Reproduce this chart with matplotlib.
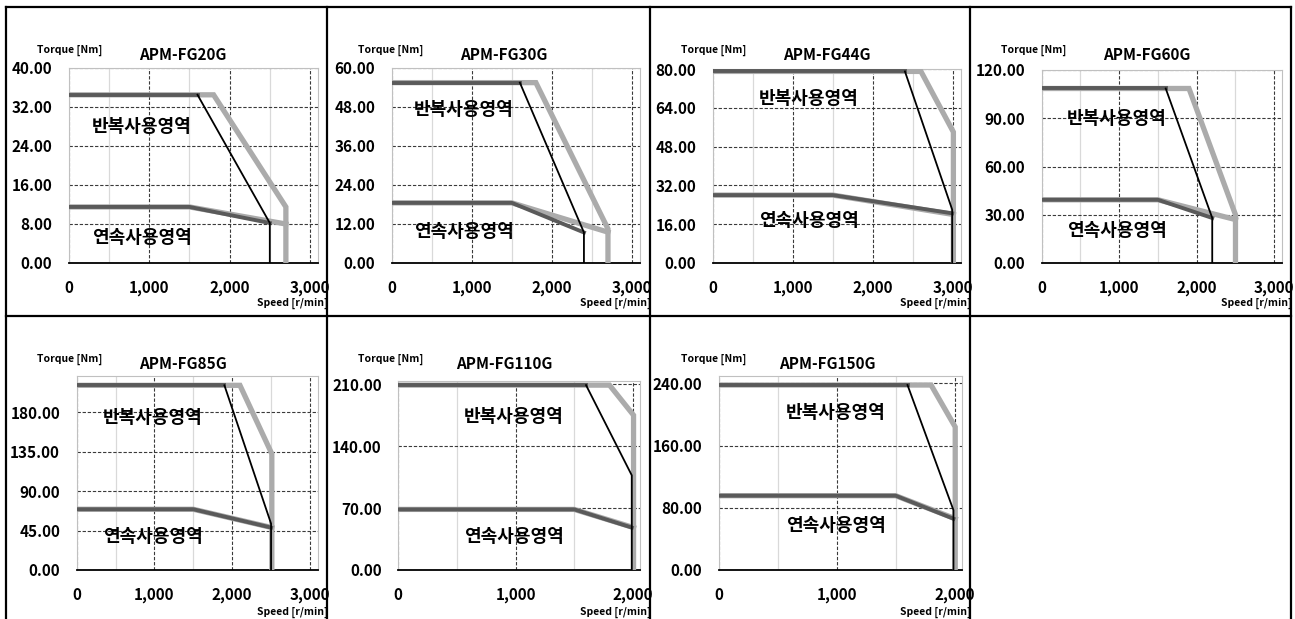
import matplotlib
matplotlib.use("Agg")
import matplotlib.pyplot as plt
from matplotlib.lines import Line2D
from matplotlib.ticker import MultipleLocator, FuncFormatter

plt.rcParams['font.family'] = ['Noto Sans CJK KR', 'DejaVu Sans']

# ---------------- data ----------------
models = ["APM-FG20G", "APM-FG30G", "APM-FG44G", "APM-FG60G",
          "APM-FG85G", "APM-FG110G", "APM-FG150G"]
y_max = [40, 60, 80, 120, 222, 214, 250]
y_step = [8, 12, 16, 30, 45, 70, 80]
x_max = [3100, 3100, 3100, 3100, 3100, 2060, 2060]
x_ticks = [[0, 1000, 2000, 3000]] * 5 + [[0, 1000, 2000]] * 2

# repeated (peak) region, standard curve (dark gray flat + black slope)
peak_torque = [34.5, 55.5, 79.0, 108.5, 211.0, 209.0, 238.0]
peak_knee = [1600, 1600, 2400, 1600, 1900, 1600, 1600]
max_speed = [2500, 2400, 2990, 2200, 2500, 1990, 1990]
peak_end = [8.2, 9.4, 22.0, 28.0, 53.0, 107.0, 77.0]
# continuous region, standard curve (dark gray)
cont_torque = [11.5, 18.5, 28.0, 39.3, 69.4, 68.5, 95.6]
cont_knee = [1500, 1500, 1500, 1500, 1500, 1500, 1500]
cont_end = [8.2, 9.4, 20.5, 28.0, 48.5, 48.0, 66.0]
# extended curve (light gray)
peak_knee2 = [1800, 1800, 2600, 1900, 2100, 1800, 1800]
max_speed2 = [2700, 2700, 3005, 2500, 2510, 2005, 2005]
peak_end2 = [11.5, 10.5, 54.0, 30.0, 132.7, 175.0, 184.0]
cont_end2 = [8.0, 9.5, 20.0, 27.0, 48.5, 48.0, 66.0]

label_rep = "반복사용영역"
label_cont = "연속사용영역"

# ---------------- layout (pixels) ----------------
W, H = 1295, 619
axes_px = [  # left, top, right, bottom
    (69, 68, 318, 263), (391.7, 68, 640, 263), (712.7, 69, 961, 263),
    (1041.7, 70, 1282, 263),
    (76.7, 375.7, 317.7, 570), (398.3, 380.7, 640, 570), (719, 375.7, 961.7, 570),
]
label_pos = [
    ((0.293, 0.70), (0.293, 0.133)), ((0.29, 0.785), (0.29, 0.16)),
    ((0.388, 0.85), (0.388, 0.22)), ((0.313, 0.75), (0.313, 0.17)),
    ((0.317, 0.787), (0.317, 0.17)), ((0.479, 0.81), (0.479, 0.175)),
    ((0.482, 0.81), (0.482, 0.23)),
]
cell_l = [6, 327, 650, 970]
cell_r = [327, 650, 970, 1291]
row_t = [7, 316]

LIGHT = '#ababab'
DARK = '#5a5a5a'

fig = plt.figure(figsize=(W / 100, H / 100), dpi=100)


def fx(x):
    return x / W


def fy(y):
    return 1 - y / H


for i, m in enumerate(models):
    l, t, r, b = axes_px[i]
    ax = fig.add_axes([fx(l), fy(b), (r - l) / W, (b - t) / H])
    ax.set_xlim(0, x_max[i])
    ax.set_ylim(0, y_max[i])

    # extended (light gray) curves
    ax.plot([0, peak_knee2[i], max_speed2[i], max_speed2[i]],
            [peak_torque[i], peak_torque[i], peak_end2[i], 0],
            color=LIGHT, lw=3.8, solid_joinstyle='miter', zorder=3)
    ax.plot([0, cont_knee[i], max_speed2[i]],
            [cont_torque[i], cont_torque[i], cont_end2[i]],
            color=LIGHT, lw=3.8, zorder=3)
    # standard curves
    ax.plot([0, cont_knee[i], max_speed[i]],
            [cont_torque[i], cont_torque[i], cont_end[i]],
            color=DARK, lw=2.8, zorder=4)
    ax.plot([0, peak_knee[i]], [peak_torque[i], peak_torque[i]],
            color=DARK, lw=2.8, zorder=4)
    ax.plot([peak_knee[i], max_speed[i], max_speed[i]],
            [peak_torque[i], peak_end[i], 0],
            color='black', lw=1.3, zorder=5)

    # grid
    ax.yaxis.set_major_locator(MultipleLocator(y_step[i]))
    ax.set_xticks(x_ticks[i])
    ax.xaxis.set_minor_locator(MultipleLocator(500))
    ax.grid(which='major', axis='both', color='#3a3a3a', lw=0.8,
            linestyle=(0, (3, 1.6)), zorder=1)
    ax.grid(which='minor', axis='x', color='#d9d9d9', lw=0.9, zorder=0.5)
    ax.set_axisbelow(True)

    ax.yaxis.set_major_formatter(FuncFormatter(lambda v, p: f"{v:.2f}"))
    ax.xaxis.set_major_formatter(FuncFormatter(lambda v, p: f"{v:,.0f}"))
    ax.tick_params(axis='y', which='major', length=0, pad=12,
                   labelsize=11)
    ax.tick_params(axis='x', which='major', length=0, pad=12,
                   labelsize=11)
    ax.tick_params(which='minor', length=0)
    for lab in ax.get_xticklabels() + ax.get_yticklabels():
        lab.set_fontweight('bold')

    for s in ('left', 'top', 'right'):
        ax.spines[s].set_color('#c0c0c0')
        ax.spines[s].set_linewidth(0.8)
    ax.spines['bottom'].set_color('black')
    ax.spines['bottom'].set_linewidth(1.3)

    (rx, ry), (cx, cy) = label_pos[i]
    ax.text(rx, ry, label_rep, transform=ax.transAxes, ha='center',
            va='center', fontsize=13, fontweight='bold', zorder=6)
    ax.text(cx, cy, label_cont, transform=ax.transAxes, ha='center',
            va='center', fontsize=13, fontweight='bold', zorder=6)

    # panel texts
    col, row = i % 4, i // 4
    cl, cr, ct = cell_l[col], cell_r[col], row_t[row]
    fig.text(fx(cl + 31), fy(ct + 43), "Torque [Nm]", ha='left',
             va='center', fontsize=7.5, fontweight='bold', zorder=1)
    fig.text(fx(cl + 177), fy(ct + 48), m, ha='center', va='center',
             fontsize=11, fontweight='bold', zorder=1)
    fig.text(fx(cr + 1), fy(ct + 296), "Speed [r/min]", ha='right',
             va='center', fontsize=7.5, fontweight='bold', zorder=1)

# table borders
border_kw = dict(color='black', lw=1.6, zorder=20,
                 transform=fig.transFigure)
for yy in row_t:
    fig.add_artist(Line2D([fx(cell_l[0]), fx(cell_r[-1])], [fy(yy), fy(yy)],
                          **border_kw))
for xx in cell_l + [cell_r[-1]]:
    fig.add_artist(Line2D([fx(xx), fx(xx)], [fy(row_t[0]), fy(H + 5)],
                          **border_kw))

fig.savefig("out.png", dpi=100)
